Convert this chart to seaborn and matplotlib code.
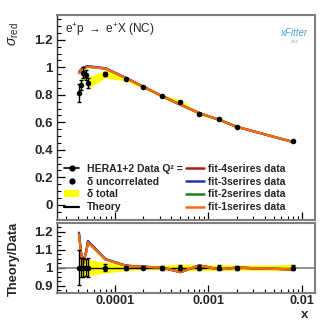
import numpy as np
import pandas as pd
import matplotlib
matplotlib.use("Agg")
import matplotlib.pyplot as plt
import seaborn as sns
from matplotlib.lines import Line2D
from matplotlib.patches import Patch
from matplotlib.ticker import FixedLocator, MultipleLocator, LogLocator, NullFormatter

# ---------------- data ----------------
x_vals = [4.12e-5, 4.33e-5, 4.55e-5, 4.95e-5, 5.14e-5, 7.9e-5, 1.31e-4, 2.0e-4,
          3.2e-4, 5.0e-4, 8.0e-4, 1.3e-3, 2.0e-3, 8.0e-3]
sigma = [0.813, 0.873, 0.959, 0.946, 0.886, 0.951, 0.915, 0.855,
         0.791, 0.748, 0.660, 0.623, 0.568, 0.462]
err_unc = [0.062, 0.038, 0.040, 0.035, 0.038, 0.014, 0.008, 0.007,
           0.007, 0.008, 0.007, 0.006, 0.005, 0.005]
err_tot = [0.060, 0.045, 0.045, 0.042, 0.040, 0.028, 0.015, 0.010,
           0.010, 0.015, 0.010, 0.010, 0.008, 0.008]

fit_names = ["fit-4serires data", "fit-3serires data", "fit-2serires data", "fit-1serires data"]
fit_colors = ["#b01c1c", "#2233bb", "#1f7f1f", "#ff6a10"]

theory_fit4 = [0.962, 0.980, 0.994, 1.004, 1.006, 0.992, 0.923, 0.860, 0.790, 0.728, 0.667, 0.618, 0.568, 0.457]
theory_fit3 = [0.966, 0.983, 0.997, 1.006, 1.008, 0.993, 0.923, 0.860, 0.790, 0.728, 0.667, 0.618, 0.568, 0.457]
theory_fit2 = [0.959, 0.976, 0.991, 1.001, 1.004, 0.990, 0.922, 0.860, 0.790, 0.728, 0.667, 0.618, 0.568, 0.457]
theory_fit1 = [0.958, 0.975, 0.990, 1.000, 1.003, 0.990, 0.922, 0.860, 0.790, 0.728, 0.667, 0.618, 0.568, 0.457]

ratio_fit4 = [1.190, 1.085, 1.024, 1.094, 1.145, 1.047, 1.011, 1.005, 1.000, 0.975, 1.012, 0.990, 1.000, 0.990]
ratio_fit3 = [1.195, 1.088, 1.026, 1.096, 1.148, 1.048, 1.011, 1.005, 1.000, 0.975, 1.012, 0.990, 1.000, 0.990]
ratio_fit2 = [1.186, 1.081, 1.021, 1.091, 1.141, 1.045, 1.010, 1.005, 1.000, 0.975, 1.012, 0.990, 1.000, 0.990]
ratio_fit1 = [1.185, 1.080, 1.020, 1.090, 1.140, 1.045, 1.010, 1.005, 1.000, 0.975, 1.012, 0.990, 1.000, 0.990]

x_ticks = [1e-4, 1e-3, 1e-2]
x_tick_labels = ["0.0001", "0.001", "0.01"]
y_ticks_top = [0, 0.2, 0.4, 0.6, 0.8, 1.0, 1.2]
y_tick_labels_top = ["0", "0.2", "0.4", "0.6", "0.8", "1", "1.2"]
y_ticks_bot = [0.9, 1.0, 1.1, 1.2]
y_tick_labels_bot = ["0.9", "1", "1.1", "1.2"]

# ---------------- style ----------------
sns.set_style("ticks")
plt.rcParams["font.family"] = ["Liberation Sans", "DejaVu Sans"]
plt.rcParams["mathtext.fontset"] = "custom"
plt.rcParams["mathtext.rm"] = "Liberation Sans"
plt.rcParams["mathtext.it"] = "Liberation Sans:italic"
plt.rcParams["mathtext.bf"] = "Liberation Sans:bold"

W, H = 332, 323
fig = plt.figure(figsize=(W / 100, H / 100), dpi=100)

def ax_rect(l, t, r, b):
    return [l / W, (H - b) / H, (r - l) / W, (b - t) / H]

ax = fig.add_axes(ax_rect(57, 15, 315, 220))
axr = fig.add_axes(ax_rect(57, 223, 315, 293))

xs = np.array(x_vals)
sg = np.array(sigma)
eu = np.array(err_unc)
et = np.array(err_tot)

rows = []
for name, th, rt in zip(fit_names,
                        [theory_fit4, theory_fit3, theory_fit2, theory_fit1],
                        [ratio_fit4, ratio_fit3, ratio_fit2, ratio_fit1]):
    for xv, tv, rv in zip(x_vals, th, rt):
        rows.append({"x": xv, "theory": tv, "ratio": rv, "fit": name})
df_fit = pd.DataFrame(rows)
df_data = pd.DataFrame({"x": x_vals, "sigma": sigma, "one": [1.0] * len(x_vals)})
palette = dict(zip(fit_names, fit_colors))

# ---------------- top panel ----------------
ax.fill_between(xs, sg - et, sg + et, color="#ffff00", lw=0, zorder=1)
sns.lineplot(data=df_fit, x="x", y="theory", hue="fit", hue_order=fit_names,
             palette=palette, estimator=None, sort=False, lw=1.6, legend=False,
             ax=ax, zorder=3)
ax.errorbar(xs, sg, yerr=eu, fmt="none", ecolor="black", elinewidth=1.0,
            capsize=1.5, capthick=1.0, zorder=4)
sns.scatterplot(data=df_data, x="x", y="sigma", color="black", s=16,
                edgecolor="black", linewidth=0, ax=ax, zorder=5, legend=False)

ax.set_xscale("log")
ax.set_xlim(10 ** -4.62, 10 ** -1.861)
ax.set_ylim(-0.11, 1.38)
ax.set_xlabel("")
ax.set_ylabel("")
ax.yaxis.set_major_locator(FixedLocator(y_ticks_top))
ax.set_yticklabels(y_tick_labels_top, fontweight="bold", fontsize=9.5)
ax.yaxis.set_minor_locator(MultipleLocator(0.05))
ax.set_xticks(x_ticks)
ax.set_xticklabels([])
ax.xaxis.set_minor_locator(LogLocator(base=10, subs=np.arange(2, 10)))
ax.xaxis.set_minor_formatter(NullFormatter())

# ---------------- ratio panel ----------------
axr.axhline(1.0, color="#808080", lw=1.2, zorder=1)
axr.fill_between(xs, 1 - et / sg, 1 + et / sg, color="#ffff00", lw=0, zorder=2)
sns.lineplot(data=df_data, x="x", y="one", color="black", lw=1.0,
             estimator=None, sort=False, ax=axr, zorder=3, legend=False)
sns.lineplot(data=df_fit, x="x", y="ratio", hue="fit", hue_order=fit_names,
             palette=palette, estimator=None, sort=False, lw=1.6, legend=False,
             ax=axr, zorder=4)
axr.errorbar(xs, np.ones_like(xs), yerr=eu / sg * 1.25, fmt="none", ecolor="black",
             elinewidth=1.0, capsize=1.5, capthick=1.0, zorder=5)
sns.scatterplot(data=df_data, x="x", y="one", color="black", s=16,
                linewidth=0, ax=axr, zorder=6, legend=False)

axr.set_xscale("log")
axr.set_xlim(10 ** -4.62, 10 ** -1.861)
axr.set_ylim(0.859, 1.248)
axr.set_xlabel("")
axr.set_ylabel("")
axr.yaxis.set_major_locator(FixedLocator(y_ticks_bot))
axr.set_yticklabels(y_tick_labels_bot, fontweight="bold", fontsize=9.5)
axr.yaxis.set_minor_locator(MultipleLocator(0.025))
axr.set_xticks(x_ticks)
axr.set_xticklabels(x_tick_labels, fontweight="bold", fontsize=9.2)
axr.xaxis.set_minor_locator(LogLocator(base=10, subs=np.arange(2, 10)))
axr.xaxis.set_minor_formatter(NullFormatter())

for a in (ax, axr):
    a.tick_params(axis="both", which="major", direction="in", length=6, width=0.9,
                  color="black", pad=3, top=False, right=False)
    a.tick_params(axis="both", which="minor", direction="in", length=3, width=0.8,
                  color="black", top=False, right=False)
    for s in ("top", "right", "bottom"):
        a.spines[s].set_color("#7f7f7f")
        a.spines[s].set_linewidth(1.5)
    a.spines["left"].set_color("#303030")
    a.spines["left"].set_linewidth(1.0)
axr.tick_params(axis="x", which="major", pad=1.5)

# ---------------- texts ----------------
ax.text(0.03, 0.93, r"e$^{+}$p $\rightarrow$ e$^{+}$X (NC)", transform=ax.transAxes,
        fontsize=8.5, ha="left", va="center")
fig.text(14 / W, 1 - 34 / H, r"$\sigma_{\rm red}$", rotation=90, fontsize=10,
         ha="center", va="center")
fig.text(14 / W, 1 - 259 / H, "Theory/Data", rotation=90, fontsize=9.3,
         fontweight="bold", ha="center", va="center")
fig.text(305 / W, 1 - 315 / H, "x", fontsize=9.5, fontweight="bold",
         ha="center", va="center")
fig.text(294 / W, 1 - 33 / H, "xFitter", fontsize=7, style="italic",
         color="#3fa7e0", ha="center", va="center")
fig.text(295 / W, 1 - 42 / H, "2.0.1", fontsize=2.5, color="#888888",
         ha="center", va="center")

# ---------------- legends ----------------
h_left = [
    Line2D([], [], color="black", lw=1.2, marker="o", markersize=3.5),
    Line2D([], [], color="black", lw=0, marker="o", markersize=3.5),
    Patch(facecolor="#ffff00", edgecolor="none"),
    Line2D([], [], color="black", lw=1.6),
]
l_left = ["HERA1+2 Data Q² =", "δ uncorrelated", "δ total", "Theory"]
leg1 = ax.legend(h_left, l_left, loc="upper left", bbox_to_anchor=(0.028, 0.275),
                 frameon=False, borderaxespad=0, borderpad=0,
                 labelspacing=0.28, handlelength=1.45, handletextpad=0.7,
                 prop={"weight": "bold", "size": 7.5})
ax.add_artist(leg1)
h_right = [Line2D([], [], color=c, lw=1.8) for c in fit_colors]
leg2 = ax.legend(h_right, fit_names, loc="upper left", bbox_to_anchor=(0.5, 0.275),
                 frameon=False, borderaxespad=0, borderpad=0,
                 labelspacing=0.28, handlelength=1.75, handletextpad=0.35,
                 prop={"weight": "bold", "size": 7.5})

fig.savefig("out.png", dpi=100)
